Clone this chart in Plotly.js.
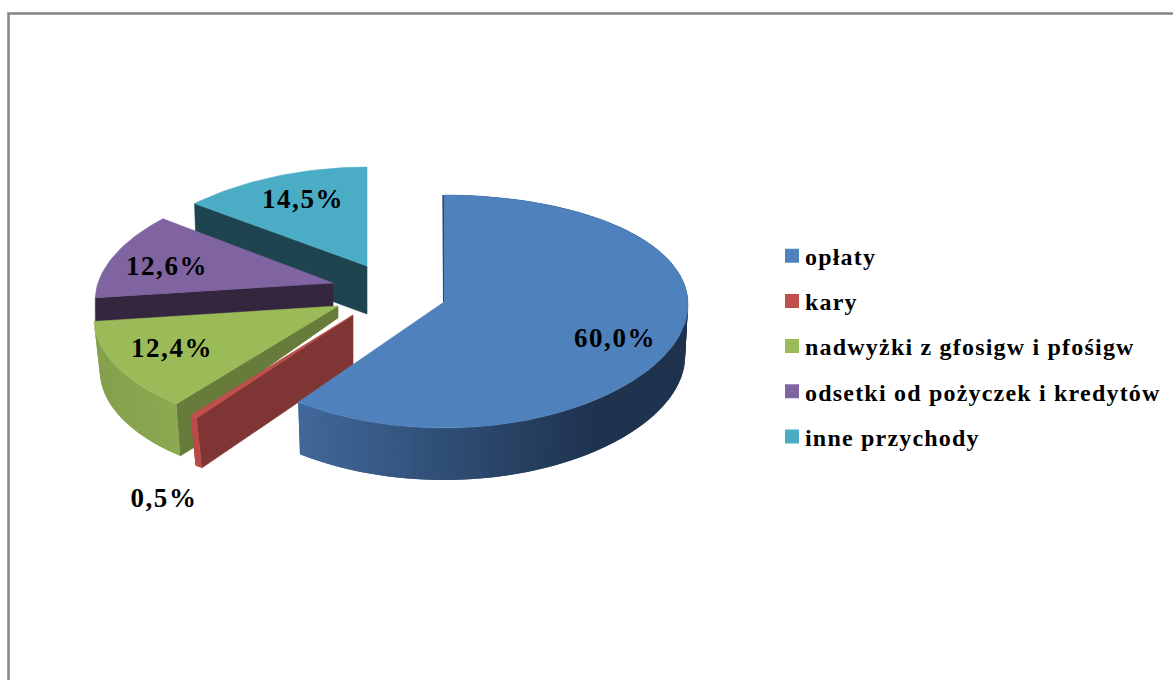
<!DOCTYPE html>
<html><head><meta charset="utf-8">
<script src="https://cdn.plot.ly/plotly-3.0.1.min.js"></script>
<style>
html,body{margin:0;padding:0;background:#fff;overflow:hidden}
#chart{width:1173px;height:680px}
.legendtext{letter-spacing:1.2px;transform:translateX(-7px)}
.textpoint text{letter-spacing:1.6px}
</style></head><body><div id="chart"></div>
<script>
// Data
const categories = ["opłaty","kary","nadwyżki z gfosigw i pfośigw","odsetki od pożyczek i kredytów","inne przychody"];
const shares = [60.0,0.5,12.4,12.6,14.5];
const shareLabels = ["60,0%","0,5%","12,4%","12,6%","14,5%"];

// Styles
const topColors = ["#4F81BD","#C0504D","#9BBB59","#8064A2","#4BACC6"];
const faceColors = ["#1F334F","#7E3533","#677B3B","#35263F","#1E4450"];
const wallFrom = ["#41699B","#BA4B48","#84A04B","#35263F","#1E4450"];
const wallTo = ["#1F334F","#BA4B48","#8CA851","#35263F","#1E4450"];
// Projection of each exploded slice: apex position, radii, perspective, thickness
const sliceViews = [
 {cx:444,cy:302,rx:244,ry:115.7,k:.0815,kx:.02,d:52,shrink:.988},
 {cx:353,cy:315,rx:244,ry:119,k:.0815,kx:.1,d:50,shrink:.97},
 {cx:338,cy:306,rx:243,ry:116,k:.0815,kx:.1,d:52,shrink:.976},
 {cx:333,cy:283,rx:235,ry:110,k:.0815,kx:.15,d:24,shrink:1},
 {cx:367,cy:266,rx:245,ry:107,k:.0815,kx:.2,d:48,shrink:.99}
];
const labelX = [615,164,172,167,303];
const labelY = [340,500,350,268,201];

function hex(c){return [1,3,5].map(i=>parseInt(c.substr(i,2),16));}
function mix(a,b,t){const A=hex(a),B=hex(b);return "rgb("+A.map((v,i)=>Math.round(v+(B[i]-v)*t)).join(",")+")";}
function pt(v,deg){
  const t=deg*Math.PI/180,X=Math.sin(t),Y=Math.cos(t);
  return [v.cx+v.rx*X/(1+v.kx*Y), v.cy-v.ry*Y/(1+v.k*Y)];
}
function low(v,p){return [v.cx+(p[0]-v.cx)*v.shrink,p[1]+v.d];}
function poly(pts,fill,lw){
  return {type:"scatter",mode:"lines",x:pts.map(p=>p[0]).concat(pts[0][0]),y:pts.map(p=>p[1]).concat(pts[0][1]),
    fill:"toself",fillcolor:fill,line:{color:fill,width:lw===undefined?.6:lw},showlegend:false,hoverinfo:"skip"};
}
function arc(v,a,b){const n=Math.max(2,Math.ceil(Math.abs(b-a)/1.5)),o=[];for(let i=0;i<=n;i++)o.push(pt(v,a+(b-a)*i/n));return o;}

// Angular extent of every slice, clockwise from 12 o'clock
const total=shares.reduce((s,v)=>s+v,0);
const starts=[];shares.reduce((s,v,i)=>{starts[i]=s;return s+v*360/total;},0);
const ends=shares.map((v,i)=>starts[i]+v*360/total);

function sliceTraces(i){
  const v=sliceViews[i],a=starts[i],b=ends[i],out=[];
  const apex=[v.cx,v.cy];
  // cut face that looks towards the viewer
  if(i===0){
    const p=pt(v,a);
    out.push({type:"scatter",mode:"lines",x:[p[0]-.6,v.cx],y:[p[1],v.cy],line:{color:faceColors[0],width:2},showlegend:false,hoverinfo:"skip"});
  }else{
    const p=pt(v,a);
    out.push(poly([apex,p,low(v,p),low(v,apex)],faceColors[i]));
  }
  // rounded wall
  if(i<3){
    const pts=arc(v,a,b);
    const xs=pts.map(p=>p[0]),x0=Math.min(...xs),x1=i===0?x0+300:Math.max(...xs);
    // overlapping segments, painted from the far end so that no seams show
    for(let j=0;j<pts.length-1;j++){
      const t=Math.min(1,Math.max(0,(pts[j][0]-x0)/(x1-x0)));
      const c=mix(wallFrom[i],wallTo[i],t);
      const q=pts[Math.min(pts.length-1,j+2)];
      out.push(poly([pts[j],q,low(v,q),low(v,pts[j])],c,0));
    }
  }
  // top face
  out.push(poly([apex].concat(arc(v,a,b)),topColors[i]));
  return out;
}

const traces=[];
[4,3,2].forEach(i=>traces.push(...sliceTraces(i)));
// tapering white gap between the green and red slices
const rv=sliceViews[1],re=pt(rv,ends[1]);
const along=t=>[rv.cx+(re[0]-rv.cx)*t,rv.cy+(re[1]-rv.cy)*t];
const g0=along(.09),g1=along(.55);
traces.push(poly([g0,[g0[0],g0[1]-6],g1],"#ffffff",0));
traces.push(...sliceTraces(1));
traces.push(...sliceTraces(0));

// legend entries
categories.forEach((c,i)=>traces.push({type:"scatter",mode:"markers",x:[null],y:[null],name:c,legendgroup:"g"+i,
  marker:{symbol:"square",size:14,color:topColors[i]},hoverinfo:"skip"}));

// value labels
traces.push({type:"scatter",mode:"text",x:labelX,y:labelY,text:shareLabels,textposition:"middle center",
  textfont:{family:"Liberation Serif",size:27,color:"#000",weight:700},showlegend:false,hoverinfo:"skip",cliponaxis:false});

const hidden={visible:false,fixedrange:true};
Plotly.newPlot("chart",traces,{
  width:1173,height:680,margin:{l:0,r:0,t:0,b:0},paper_bgcolor:"#fff",plot_bgcolor:"#fff",
  xaxis:Object.assign({range:[0,1173]},hidden),
  yaxis:Object.assign({range:[680,0]},hidden),
  legend:{x:.6584,xanchor:"left",y:.491,yanchor:"middle",traceorder:"grouped",tracegroupgap:11,itemwidth:30,
    font:{family:"Liberation Serif",size:24,color:"#000",weight:700},bgcolor:"rgba(0,0,0,0)"},
  shapes:[
    {type:"rect",xref:"x",yref:"y",x0:8.5,y0:13.5,x1:1190,y1:700,line:{color:"#858585",width:2.5},fillcolor:"rgba(0,0,0,0)",layer:"below"}
  ]
},{displayModeBar:false,staticPlot:true});
</script></body></html>
